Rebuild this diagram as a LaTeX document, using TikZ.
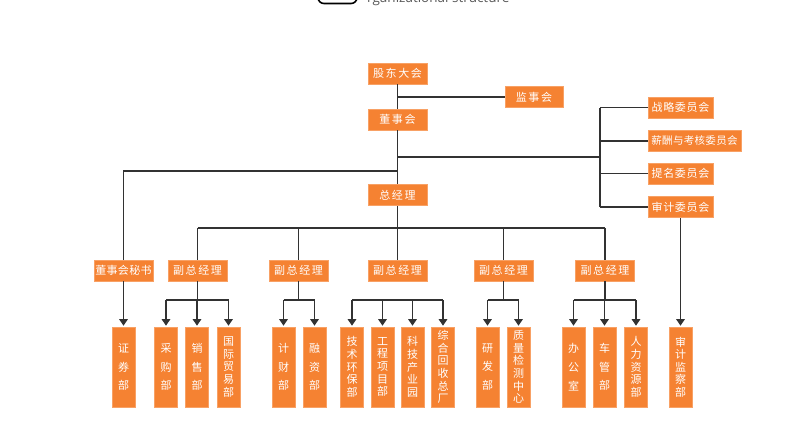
\documentclass[tikz,border=0pt]{standalone}
\usepackage{fontspec}
\newfontfamily\cjk{Noto Sans CJK SC}[LetterSpace=14]
\newfontfamily\cjkmid{Noto Sans CJK SC}[LetterSpace=6]
\newfontfamily\cjknarrow{Noto Sans CJK SC}[LetterSpace=3]
\newfontfamily\cjkv{Noto Sans CJK SC}
\setsansfont{Open Sans}
\usetikzlibrary{arrows.meta}
\definecolor{boxorange}{RGB}{245,130,50}
\definecolor{linegray}{RGB}{50,50,50}
\newcommand{\linew}{1.1pt}

\tikzset{
  unit/.style={fill=boxorange, draw=boxorange!75!white, line width=.6pt, text=white,
    inner sep=0pt, minimum height=21pt, font=\cjk\fontsize{11}{13}\selectfont},
  longunit/.style={unit, font=\cjkmid\fontsize{11}{13}\selectfont},
  dept/.style={unit, minimum width=23pt, minimum height=80pt, align=center,
    font=\cjkv\fontsize{11}{12.6}\selectfont},
  deptsparse/.style={dept, font=\cjkv\fontsize{11}{18.7}\selectfont},
  link/.style={draw=linegray, line width=\linew},
  arr/.style={link, shorten >=1pt, -{Triangle[width=8.5pt,length=6.5pt]}}
}

\begin{document}
\begin{tikzpicture}[x=1pt,y=-1pt]
        \useasboundingbox (0,0) rectangle (790,434);

        % cut-off heading
        \draw[line width=1.6pt, rounded corners=6pt] (318,-20) rectangle (357,3.5);
        \node (title) at (367,2) [anchor=base west, text=black!65, inner sep=0pt,
          font=\sffamily\fontsize{13.5}{14}\selectfont] {rganizational structure};

        \node (gd) at (397.5,73.5) [unit, minimum width=59pt] {股东大会};
        \node (js) at (534,97) [unit, minimum width=58pt] {监事会};
        \node (dsh) at (397.5,119.5) [unit, minimum width=59pt] {董事会};
        \node (zjl) at (397.5,195) [unit, minimum width=59pt] {总经理};

        \node (zl) at (680.5,107.5) [longunit, minimum width=65pt] {战略委员会};
        \node (xc) at (694.5,141) [unit, minimum width=93pt,
          font=\cjknarrow\fontsize{10.5}{13}\selectfont] {薪酬与考核委员会};
        \node (tm) at (680.5,173.5) [longunit, minimum width=65pt] {提名委员会};
        \node (sj) at (680.5,207) [longunit, minimum width=65pt] {审计委员会};

        \node (ms) at (123.5,270.5) [longunit, minimum width=59pt,
          font=\cjknarrow\fontsize{11}{13}\selectfont] {董事会秘书};
        \node (f1) at (197.5,270.5) [unit, minimum width=59pt] {副总经理};
        \node (f2) at (298.5,270.5) [unit, minimum width=59pt] {副总经理};
        \node (f3) at (397.5,270.5) [unit, minimum width=59pt] {副总经理};
        \node (f4) at (503.5,270.5) [unit, minimum width=59pt] {副总经理};
        \node (f5) at (605,270.5) [unit, minimum width=59pt] {副总经理};

        \node (zq) at (123.5,367) [deptsparse] {证\\券\\部};
        \node (cg) at (166,367) [deptsparse] {采\\购\\部};
        \node (xs) at (197,367) [deptsparse] {销\\售\\部};
        \node (gj) at (228.5,367) [dept] {国\\际\\贸\\易\\部};
        \node (jc) at (283.5,367) [deptsparse] {计\\财\\部};
        \node (rz) at (314.5,367) [deptsparse] {融\\资\\部};
        \node (jh) at (352,367) [dept] {技\\术\\环\\保\\部};
        \node (gc) at (382.5,367) [dept] {工\\程\\项\\目\\部};
        \node (kj) at (412.5,367) [dept] {科\\技\\产\\业\\园};
        \node (zh) at (443,367) [dept] {综\\合\\回\\收\\总\\厂};
        \node (yf) at (487.5,367) [deptsparse] {研\\发\\部};
        \node (zj) at (518.5,367) [dept] {质\\量\\检\\测\\中\\心};
        \node (bg) at (573.5,367) [deptsparse] {办\\公\\室};
        \node (cgb) at (604.5,367) [deptsparse] {车\\管\\部};
        \node (rl) at (636,367) [dept] {人\\力\\资\\源\\部};
        \node (sjjc) at (680.5,367) [dept] {审\\计\\监\\察\\部};

        \coordinate (jsfork) at (397.5,97);
        \coordinate (wyfork) at (600,157);
        \coordinate (msfork) at (123.5,171);
        \coordinate (fbar) at (397.5,228);
        \coordinate (b1) at (197.5,300);
        \coordinate (b2) at (298.5,300);
        \coordinate (b3) at (397.5,300);
        \coordinate (b4) at (503.5,300);
        \coordinate (b5) at (605,300);

        \draw[link]
        (gd) -- (dsh) (dsh) -- (zjl) (zjl) -- (f3)
        (jsfork) -- (jsfork -| js.west)
        (dsh.south |- wyfork) -- (wyfork)
        (wyfork |- zl) -- (wyfork |- sj)
        (dsh.south |- msfork) -- (msfork) -- (ms)
        (fbar -| f1) -- (fbar -| f5);
        \foreach \c in {zl,xc,tm,sj}
          \draw[link] (wyfork |- \c) -- (\c.west);
        \foreach \f in {f1,f2,f4,f5}
          \draw[link] (fbar -| \f) -- (\f);

        \draw[link]
        (f1) -- (b1) (b1 -| cg) -- (b1 -| gj)
        (f2) -- (b2) (b2 -| jc) -- (b2 -| rz)
        (b3 -| jh) -- (b3 -| zh)
        (f4) -- (b4) (b4 -| yf) -- (b4 -| zj)
        (f5) -- (b5) (b5 -| bg) -- (b5 -| rl);

        \foreach \d/\b in {cg/b1,xs/b1,gj/b1,jc/b2,rz/b2,jh/b3,gc/b3,kj/b3,zh/b3,
                           yf/b4,zj/b4,bg/b5,cgb/b5,rl/b5}
          \draw[arr] (\b -| \d) -- (\d);
        \draw[arr] (ms) -- (zq);
        \draw[arr] (sj.south -| sjjc) -- (sjjc);
\end{tikzpicture}
\end{document}
